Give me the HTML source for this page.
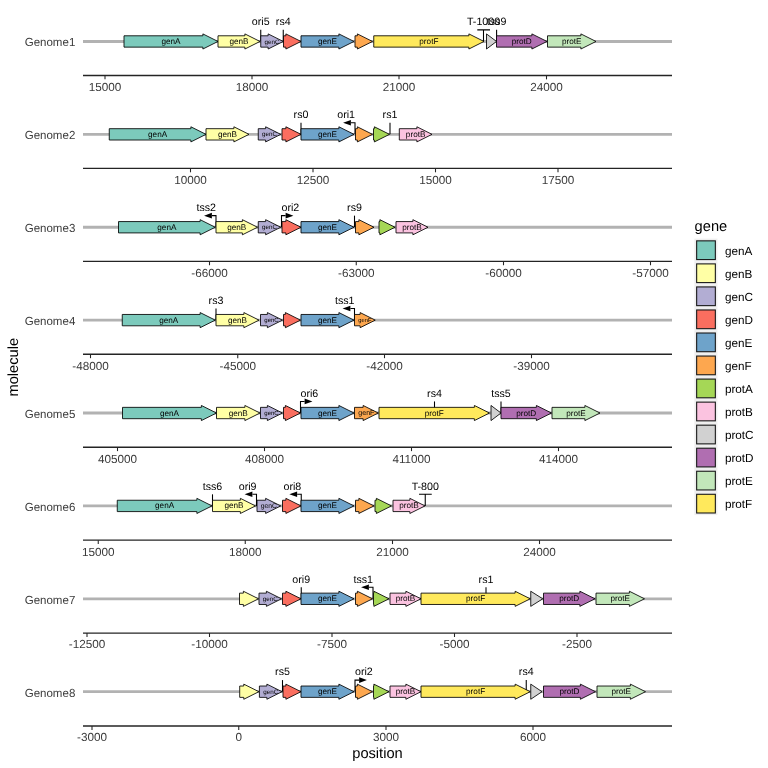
<!DOCTYPE html>
<html lang="en">
<head>
<meta charset="utf-8">
<title>gene arrow map</title>
<style>
html,body{margin:0;padding:0;background:#fff;}
body{width:768px;height:768px;overflow:hidden;font-family:"Liberation Sans",sans-serif;}
svg{display:block;}
</style>
</head>
<body>
<svg width="768" height="768" viewBox="0 0 768 768" text-rendering="geometricPrecision" font-family="'Liberation Sans', sans-serif">
<rect width="768" height="768" fill="#fff"/>
<g>
<line x1="83" y1="41.46" x2="672" y2="41.46" stroke="#B2B2B2" stroke-width="2.85"/>
<text x="75.3" y="46.41" font-size="11.73" fill="#3B3B3B" text-anchor="end" textLength="50.6" lengthAdjust="spacingAndGlyphs">Genome1</text>
<path d="M260.75 41.46V29.86" stroke="#000" stroke-width="1.07" fill="none"/>
<path d="M283.25 41.46V29.86" stroke="#000" stroke-width="1.07" fill="none"/>
<path d="M483.5 41.46V29.86M477.3 29.86H490" stroke="#000" stroke-width="1.07" fill="none"/>
<path d="M496.6 41.46V29.86" stroke="#000" stroke-width="1.07" fill="none"/>
<path d="M124 35.79H202.88V33.9L218 41.46L202.88 49.02V47.13H124Z" fill="#7CCABC" stroke="#000" stroke-width="0.85" stroke-linejoin="miter"/>
<path d="M218 35.79H244.88V33.9L260 41.46L244.88 49.02V47.13H218Z" fill="#FFFFA5" stroke="#000" stroke-width="0.85" stroke-linejoin="miter"/>
<path d="M260.75 35.79H268.13V33.9L283.25 41.46L268.13 49.02V47.13H260.75Z" fill="#B2ADD3" stroke="#000" stroke-width="0.85" stroke-linejoin="miter"/>
<path d="M283.5 35.79H285.88V33.9L301 41.46L285.88 49.02V47.13H283.5Z" fill="#FA6E5F" stroke="#000" stroke-width="0.85" stroke-linejoin="miter"/>
<path d="M301 35.79H338.88V33.9L354 41.46L338.88 49.02V47.13H301Z" fill="#6EA3CA" stroke="#000" stroke-width="0.85" stroke-linejoin="miter"/>
<path d="M355 35.79H357.38V33.9L372.5 41.46L357.38 49.02V47.13H355Z" fill="#FDA74F" stroke="#000" stroke-width="0.85" stroke-linejoin="miter"/>
<path d="M373.75 35.79H468.88V33.9L484 41.46L468.88 49.02V47.13H373.75Z" fill="#FFE95C" stroke="#000" stroke-width="0.85" stroke-linejoin="miter"/>
<path d="M486.5 33.9L496.5 41.46L486.5 49.02Z" fill="#D1D1D1" stroke="#000" stroke-width="0.85" stroke-linejoin="miter"/>
<path d="M496.5 35.79H531.88V33.9L547 41.46L531.88 49.02V47.13H496.5Z" fill="#B06EB1" stroke="#000" stroke-width="0.85" stroke-linejoin="miter"/>
<path d="M547.5 35.79H580.88V33.9L596 41.46L580.88 49.02V47.13H547.5Z" fill="#C2E7BA" stroke="#000" stroke-width="0.85" stroke-linejoin="miter"/>
<text x="171" y="44.01" font-size="8.2" text-anchor="middle" fill="#000">genA</text>
<text x="239" y="44.01" font-size="8.2" text-anchor="middle" fill="#000">genB</text>
<text x="272" y="43.5" font-size="6.25" text-anchor="middle" fill="#000">genC</text>
<text x="327.5" y="44.01" font-size="8.2" text-anchor="middle" fill="#000">genE</text>
<text x="428.88" y="44.01" font-size="8.2" text-anchor="middle" fill="#000">protF</text>
<text x="521.75" y="44.01" font-size="8.2" text-anchor="middle" fill="#000">protD</text>
<text x="571.75" y="44.01" font-size="8.2" text-anchor="middle" fill="#000">protE</text>
<text x="260.75" y="25.21" font-size="10.67" text-anchor="middle" fill="#000">ori5</text>
<text x="283.25" y="25.21" font-size="10.67" text-anchor="middle" fill="#000">rs4</text>
<text x="483.5" y="25.21" font-size="10.67" text-anchor="middle" fill="#000">T-1000</text>
<text x="496.6" y="25.21" font-size="10.67" text-anchor="middle" fill="#000">tss9</text>
<line x1="83" y1="75.45" x2="672" y2="75.45" stroke="#242424" stroke-width="1.4"/>
<line x1="105" y1="75.45" x2="105" y2="79.35" stroke="#242424" stroke-width="1.07"/>
<text x="105" y="90.8" font-size="11.73" fill="#3B3B3B" text-anchor="middle">15000</text>
<line x1="252" y1="75.45" x2="252" y2="79.35" stroke="#242424" stroke-width="1.07"/>
<text x="252" y="90.8" font-size="11.73" fill="#3B3B3B" text-anchor="middle">18000</text>
<line x1="399" y1="75.45" x2="399" y2="79.35" stroke="#242424" stroke-width="1.07"/>
<text x="399" y="90.8" font-size="11.73" fill="#3B3B3B" text-anchor="middle">21000</text>
<line x1="546.5" y1="75.45" x2="546.5" y2="79.35" stroke="#242424" stroke-width="1.07"/>
<text x="546.5" y="90.8" font-size="11.73" fill="#3B3B3B" text-anchor="middle">24000</text>
</g>
<g>
<line x1="83" y1="134.35" x2="672" y2="134.35" stroke="#B2B2B2" stroke-width="2.85"/>
<text x="75.3" y="139.3" font-size="11.73" fill="#3B3B3B" text-anchor="end" textLength="50.6" lengthAdjust="spacingAndGlyphs">Genome2</text>
<path d="M301 134.35V122.75" stroke="#000" stroke-width="1.07" fill="none"/>
<path d="M355 134.35V122.75H350.9" stroke="#000" stroke-width="1.07" fill="none" stroke-linejoin="miter"/>
<path d="M343.1 122.75L350.9 119.95V125.55Z" fill="#000"/>
<path d="M390 134.35V122.75" stroke="#000" stroke-width="1.07" fill="none"/>
<path d="M109.25 128.68H190.88V126.79L206 134.35L190.88 141.91V140.02H109.25Z" fill="#7CCABC" stroke="#000" stroke-width="0.85" stroke-linejoin="miter"/>
<path d="M206 128.68H233.88V126.79L249 134.35L233.88 141.91V140.02H206Z" fill="#FFFFA5" stroke="#000" stroke-width="0.85" stroke-linejoin="miter"/>
<path d="M258.25 128.68H265.63V126.79L280.75 134.35L265.63 141.91V140.02H258.25Z" fill="#B2ADD3" stroke="#000" stroke-width="0.85" stroke-linejoin="miter"/>
<path d="M282 128.68H285.88V126.79L301 134.35L285.88 141.91V140.02H282Z" fill="#FA6E5F" stroke="#000" stroke-width="0.85" stroke-linejoin="miter"/>
<path d="M301 128.68H338.88V126.79L354 134.35L338.88 141.91V140.02H301Z" fill="#6EA3CA" stroke="#000" stroke-width="0.85" stroke-linejoin="miter"/>
<path d="M355.5 128.68H357.38V126.79L372.5 134.35L357.38 141.91V140.02H355.5Z" fill="#FDA74F" stroke="#000" stroke-width="0.85" stroke-linejoin="miter"/>
<path d="M373.5 128.68H374.38V126.79L389.5 134.35L374.38 141.91V140.02H373.5Z" fill="#A5D756" stroke="#000" stroke-width="0.85" stroke-linejoin="miter"/>
<path d="M399.3 128.68H416.88V126.79L432 134.35L416.88 141.91V140.02H399.3Z" fill="#FBC3E0" stroke="#000" stroke-width="0.85" stroke-linejoin="miter"/>
<text x="157.62" y="136.9" font-size="8.2" text-anchor="middle" fill="#000">genA</text>
<text x="227.5" y="136.9" font-size="8.2" text-anchor="middle" fill="#000">genB</text>
<text x="269.5" y="136.39" font-size="6.25" text-anchor="middle" fill="#000">genC</text>
<text x="327.5" y="136.9" font-size="8.2" text-anchor="middle" fill="#000">genE</text>
<text x="415.65" y="136.9" font-size="8.2" text-anchor="middle" fill="#000">protB</text>
<text x="301" y="118.1" font-size="10.67" text-anchor="middle" fill="#000">rs0</text>
<text x="355" y="118.1" font-size="10.67" text-anchor="end" fill="#000">ori1</text>
<text x="390" y="118.1" font-size="10.67" text-anchor="middle" fill="#000">rs1</text>
<line x1="83" y1="168.39" x2="672" y2="168.39" stroke="#242424" stroke-width="1.4"/>
<line x1="190.5" y1="168.39" x2="190.5" y2="172.29" stroke="#242424" stroke-width="1.07"/>
<text x="190.5" y="183.74" font-size="11.73" fill="#3B3B3B" text-anchor="middle">10000</text>
<line x1="313" y1="168.39" x2="313" y2="172.29" stroke="#242424" stroke-width="1.07"/>
<text x="313" y="183.74" font-size="11.73" fill="#3B3B3B" text-anchor="middle">12500</text>
<line x1="435.5" y1="168.39" x2="435.5" y2="172.29" stroke="#242424" stroke-width="1.07"/>
<text x="435.5" y="183.74" font-size="11.73" fill="#3B3B3B" text-anchor="middle">15000</text>
<line x1="558" y1="168.39" x2="558" y2="172.29" stroke="#242424" stroke-width="1.07"/>
<text x="558" y="183.74" font-size="11.73" fill="#3B3B3B" text-anchor="middle">17500</text>
</g>
<g>
<line x1="83" y1="227.24" x2="672" y2="227.24" stroke="#B2B2B2" stroke-width="2.85"/>
<text x="75.3" y="232.19" font-size="11.73" fill="#3B3B3B" text-anchor="end" textLength="50.6" lengthAdjust="spacingAndGlyphs">Genome3</text>
<path d="M216 227.24V215.64H211.9" stroke="#000" stroke-width="1.07" fill="none" stroke-linejoin="miter"/>
<path d="M204.1 215.64L211.9 212.84V218.44Z" fill="#000"/>
<path d="M281.5 227.24V215.64H285.6" stroke="#000" stroke-width="1.07" fill="none" stroke-linejoin="miter"/>
<path d="M293.4 215.64L285.6 212.84V218.44Z" fill="#000"/>
<path d="M354.5 227.24V215.64" stroke="#000" stroke-width="1.07" fill="none"/>
<path d="M118.5 221.57H200.13V219.68L215.25 227.24L200.13 234.8V232.91H118.5Z" fill="#7CCABC" stroke="#000" stroke-width="0.85" stroke-linejoin="miter"/>
<path d="M216 221.57H242.38V219.68L257.5 227.24L242.38 234.8V232.91H216Z" fill="#FFFFA5" stroke="#000" stroke-width="0.85" stroke-linejoin="miter"/>
<path d="M258.25 221.57H265.63V219.68L280.75 227.24L265.63 234.8V232.91H258.25Z" fill="#B2ADD3" stroke="#000" stroke-width="0.85" stroke-linejoin="miter"/>
<path d="M282 221.57H285.88V219.68L301 227.24L285.88 234.8V232.91H282Z" fill="#FA6E5F" stroke="#000" stroke-width="0.85" stroke-linejoin="miter"/>
<path d="M301 221.57H338.88V219.68L354 227.24L338.88 234.8V232.91H301Z" fill="#6EA3CA" stroke="#000" stroke-width="0.85" stroke-linejoin="miter"/>
<path d="M355.5 221.57H358.88V219.68L374 227.24L358.88 234.8V232.91H355.5Z" fill="#FDA74F" stroke="#000" stroke-width="0.85" stroke-linejoin="miter"/>
<path d="M379 221.57H379.88V219.68L395 227.24L379.88 234.8V232.91H379Z" fill="#A5D756" stroke="#000" stroke-width="0.85" stroke-linejoin="miter"/>
<path d="M396 221.57H412.88V219.68L428 227.24L412.88 234.8V232.91H396Z" fill="#FBC3E0" stroke="#000" stroke-width="0.85" stroke-linejoin="miter"/>
<text x="166.88" y="229.79" font-size="8.2" text-anchor="middle" fill="#000">genA</text>
<text x="236.75" y="229.79" font-size="8.2" text-anchor="middle" fill="#000">genB</text>
<text x="269.5" y="229.28" font-size="6.25" text-anchor="middle" fill="#000">genC</text>
<text x="327.5" y="229.79" font-size="8.2" text-anchor="middle" fill="#000">genE</text>
<text x="412" y="229.79" font-size="8.2" text-anchor="middle" fill="#000">protB</text>
<text x="216" y="210.99" font-size="10.67" text-anchor="end" fill="#000">tss2</text>
<text x="281.5" y="210.99" font-size="10.67" text-anchor="start" fill="#000">ori2</text>
<text x="354.5" y="210.99" font-size="10.67" text-anchor="middle" fill="#000">rs9</text>
<line x1="83" y1="261.33" x2="672" y2="261.33" stroke="#242424" stroke-width="1.4"/>
<line x1="209.5" y1="261.33" x2="209.5" y2="265.23" stroke="#242424" stroke-width="1.07"/>
<text x="209.5" y="276.68" font-size="11.73" fill="#3B3B3B" text-anchor="middle">-66000</text>
<line x1="356.25" y1="261.33" x2="356.25" y2="265.23" stroke="#242424" stroke-width="1.07"/>
<text x="356.25" y="276.68" font-size="11.73" fill="#3B3B3B" text-anchor="middle">-63000</text>
<line x1="503.5" y1="261.33" x2="503.5" y2="265.23" stroke="#242424" stroke-width="1.07"/>
<text x="503.5" y="276.68" font-size="11.73" fill="#3B3B3B" text-anchor="middle">-60000</text>
<line x1="650.5" y1="261.33" x2="650.5" y2="265.23" stroke="#242424" stroke-width="1.07"/>
<text x="650.5" y="276.68" font-size="11.73" fill="#3B3B3B" text-anchor="middle">-57000</text>
</g>
<g>
<line x1="83" y1="320.13" x2="672" y2="320.13" stroke="#B2B2B2" stroke-width="2.85"/>
<text x="75.3" y="325.08" font-size="11.73" fill="#3B3B3B" text-anchor="end" textLength="50.6" lengthAdjust="spacingAndGlyphs">Genome4</text>
<path d="M216 320.13V308.53" stroke="#000" stroke-width="1.07" fill="none"/>
<path d="M354.5 320.13V308.53H350.4" stroke="#000" stroke-width="1.07" fill="none" stroke-linejoin="miter"/>
<path d="M342.6 308.53L350.4 305.73V311.33Z" fill="#000"/>
<path d="M122.25 314.46H200.13V312.57L215.25 320.13L200.13 327.69V325.8H122.25Z" fill="#7CCABC" stroke="#000" stroke-width="0.85" stroke-linejoin="miter"/>
<path d="M216 314.46H243.88V312.57L259 320.13L243.88 327.69V325.8H216Z" fill="#FFFFA5" stroke="#000" stroke-width="0.85" stroke-linejoin="miter"/>
<path d="M260.5 314.46H267.38V312.57L282.5 320.13L267.38 327.69V325.8H260.5Z" fill="#B2ADD3" stroke="#000" stroke-width="0.85" stroke-linejoin="miter"/>
<path d="M283.5 314.46H285.38V312.57L300.5 320.13L285.38 327.69V325.8H283.5Z" fill="#FA6E5F" stroke="#000" stroke-width="0.85" stroke-linejoin="miter"/>
<path d="M301 314.46H338.88V312.57L354 320.13L338.88 327.69V325.8H301Z" fill="#6EA3CA" stroke="#000" stroke-width="0.85" stroke-linejoin="miter"/>
<path d="M354.5 314.46H360.13V312.57L375.25 320.13L360.13 327.69V325.8H354.5Z" fill="#FDA74F" stroke="#000" stroke-width="0.85" stroke-linejoin="miter"/>
<text x="168.75" y="322.68" font-size="8.2" text-anchor="middle" fill="#000">genA</text>
<text x="237.5" y="322.68" font-size="8.2" text-anchor="middle" fill="#000">genB</text>
<text x="271.5" y="322.12" font-size="6.04" text-anchor="middle" fill="#000">genC</text>
<text x="327.5" y="322.68" font-size="8.2" text-anchor="middle" fill="#000">genE</text>
<text x="364.88" y="322.05" font-size="5.79" text-anchor="middle" fill="#000">genF</text>
<text x="216" y="303.88" font-size="10.67" text-anchor="middle" fill="#000">rs3</text>
<text x="354.5" y="303.88" font-size="10.67" text-anchor="end" fill="#000">tss1</text>
<line x1="83" y1="354.27" x2="672" y2="354.27" stroke="#242424" stroke-width="1.4"/>
<line x1="90.5" y1="354.27" x2="90.5" y2="358.17" stroke="#242424" stroke-width="1.07"/>
<text x="90.5" y="369.62" font-size="11.73" fill="#3B3B3B" text-anchor="middle">-48000</text>
<line x1="237.75" y1="354.27" x2="237.75" y2="358.17" stroke="#242424" stroke-width="1.07"/>
<text x="237.75" y="369.62" font-size="11.73" fill="#3B3B3B" text-anchor="middle">-45000</text>
<line x1="384.5" y1="354.27" x2="384.5" y2="358.17" stroke="#242424" stroke-width="1.07"/>
<text x="384.5" y="369.62" font-size="11.73" fill="#3B3B3B" text-anchor="middle">-42000</text>
<line x1="531.5" y1="354.27" x2="531.5" y2="358.17" stroke="#242424" stroke-width="1.07"/>
<text x="531.5" y="369.62" font-size="11.73" fill="#3B3B3B" text-anchor="middle">-39000</text>
</g>
<g>
<line x1="83" y1="413.02" x2="672" y2="413.02" stroke="#B2B2B2" stroke-width="2.85"/>
<text x="75.3" y="417.97" font-size="11.73" fill="#3B3B3B" text-anchor="end" textLength="50.6" lengthAdjust="spacingAndGlyphs">Genome5</text>
<path d="M300.5 413.02V401.42H304.6" stroke="#000" stroke-width="1.07" fill="none" stroke-linejoin="miter"/>
<path d="M312.4 401.42L304.6 398.62V404.22Z" fill="#000"/>
<path d="M434.5 413.02V401.42" stroke="#000" stroke-width="1.07" fill="none"/>
<path d="M501 413.02V401.42" stroke="#000" stroke-width="1.07" fill="none"/>
<path d="M122.5 407.35H201.38V405.46L216.5 413.02L201.38 420.58V418.69H122.5Z" fill="#7CCABC" stroke="#000" stroke-width="0.85" stroke-linejoin="miter"/>
<path d="M216.5 407.35H244.88V405.46L260 413.02L244.88 420.58V418.69H216.5Z" fill="#FFFFA5" stroke="#000" stroke-width="0.85" stroke-linejoin="miter"/>
<path d="M260.5 407.35H267.38V405.46L282.5 413.02L267.38 420.58V418.69H260.5Z" fill="#B2ADD3" stroke="#000" stroke-width="0.85" stroke-linejoin="miter"/>
<path d="M283.5 407.35H285.38V405.46L300.5 413.02L285.38 420.58V418.69H283.5Z" fill="#FA6E5F" stroke="#000" stroke-width="0.85" stroke-linejoin="miter"/>
<path d="M301 407.35H338.88V405.46L354 413.02L338.88 420.58V418.69H301Z" fill="#6EA3CA" stroke="#000" stroke-width="0.85" stroke-linejoin="miter"/>
<path d="M354.5 407.35H363.13V405.46L378.25 413.02L363.13 420.58V418.69H354.5Z" fill="#FDA74F" stroke="#000" stroke-width="0.85" stroke-linejoin="miter"/>
<path d="M379 407.35H474.38V405.46L489.5 413.02L474.38 420.58V418.69H379Z" fill="#FFE95C" stroke="#000" stroke-width="0.85" stroke-linejoin="miter"/>
<path d="M491 405.46L501 413.02L491 420.58Z" fill="#D1D1D1" stroke="#000" stroke-width="0.85" stroke-linejoin="miter"/>
<path d="M501 407.35H536.38V405.46L551.5 413.02L536.38 420.58V418.69H501Z" fill="#B06EB1" stroke="#000" stroke-width="0.85" stroke-linejoin="miter"/>
<path d="M552 407.35H584.88V405.46L600 413.02L584.88 420.58V418.69H552Z" fill="#C2E7BA" stroke="#000" stroke-width="0.85" stroke-linejoin="miter"/>
<text x="169.5" y="415.57" font-size="8.2" text-anchor="middle" fill="#000">genA</text>
<text x="238.25" y="415.57" font-size="8.2" text-anchor="middle" fill="#000">genB</text>
<text x="271.5" y="415.01" font-size="6.04" text-anchor="middle" fill="#000">genC</text>
<text x="327.5" y="415.57" font-size="8.2" text-anchor="middle" fill="#000">genE</text>
<text x="366.38" y="415.29" font-size="7.1" text-anchor="middle" fill="#000">genF</text>
<text x="434.25" y="415.57" font-size="8.2" text-anchor="middle" fill="#000">protF</text>
<text x="526.25" y="415.57" font-size="8.2" text-anchor="middle" fill="#000">protD</text>
<text x="576" y="415.57" font-size="8.2" text-anchor="middle" fill="#000">protE</text>
<text x="300.5" y="396.77" font-size="10.67" text-anchor="start" fill="#000">ori6</text>
<text x="434.5" y="396.77" font-size="10.67" text-anchor="middle" fill="#000">rs4</text>
<text x="501" y="396.77" font-size="10.67" text-anchor="middle" fill="#000">tss5</text>
<line x1="83" y1="447.21" x2="672" y2="447.21" stroke="#242424" stroke-width="1.4"/>
<line x1="117.5" y1="447.21" x2="117.5" y2="451.11" stroke="#242424" stroke-width="1.07"/>
<text x="117.5" y="462.56" font-size="11.73" fill="#3B3B3B" text-anchor="middle">405000</text>
<line x1="264.5" y1="447.21" x2="264.5" y2="451.11" stroke="#242424" stroke-width="1.07"/>
<text x="264.5" y="462.56" font-size="11.73" fill="#3B3B3B" text-anchor="middle">408000</text>
<line x1="411.5" y1="447.21" x2="411.5" y2="451.11" stroke="#242424" stroke-width="1.07"/>
<text x="411.5" y="462.56" font-size="11.73" fill="#3B3B3B" text-anchor="middle">411000</text>
<line x1="558.5" y1="447.21" x2="558.5" y2="451.11" stroke="#242424" stroke-width="1.07"/>
<text x="558.5" y="462.56" font-size="11.73" fill="#3B3B3B" text-anchor="middle">414000</text>
</g>
<g>
<line x1="83" y1="505.91" x2="672" y2="505.91" stroke="#B2B2B2" stroke-width="2.85"/>
<text x="75.3" y="510.86" font-size="11.73" fill="#3B3B3B" text-anchor="end" textLength="50.6" lengthAdjust="spacingAndGlyphs">Genome6</text>
<path d="M212.5 505.91V494.31" stroke="#000" stroke-width="1.07" fill="none"/>
<path d="M256.5 505.91V494.31H252.4" stroke="#000" stroke-width="1.07" fill="none" stroke-linejoin="miter"/>
<path d="M244.6 494.31L252.4 491.51V497.11Z" fill="#000"/>
<path d="M301.25 505.91V494.31H297.15" stroke="#000" stroke-width="1.07" fill="none" stroke-linejoin="miter"/>
<path d="M289.35 494.31L297.15 491.51V497.11Z" fill="#000"/>
<path d="M425.25 505.91V494.31M419.05 494.31H431.75" stroke="#000" stroke-width="1.07" fill="none"/>
<path d="M117.25 500.24H196.88V498.35L212 505.91L196.88 513.47V511.58H117.25Z" fill="#7CCABC" stroke="#000" stroke-width="0.85" stroke-linejoin="miter"/>
<path d="M212.5 500.24H240.38V498.35L255.5 505.91L240.38 513.47V511.58H212.5Z" fill="#FFFFA5" stroke="#000" stroke-width="0.85" stroke-linejoin="miter"/>
<path d="M257 500.24H265.63V498.35L280.75 505.91L265.63 513.47V511.58H257Z" fill="#B2ADD3" stroke="#000" stroke-width="0.85" stroke-linejoin="miter"/>
<path d="M282.5 500.24H285.88V498.35L301 505.91L285.88 513.47V511.58H282.5Z" fill="#FA6E5F" stroke="#000" stroke-width="0.85" stroke-linejoin="miter"/>
<path d="M301 500.24H338.88V498.35L354 505.91L338.88 513.47V511.58H301Z" fill="#6EA3CA" stroke="#000" stroke-width="0.85" stroke-linejoin="miter"/>
<path d="M355.5 500.24H358.88V498.35L374 505.91L358.88 513.47V511.58H355.5Z" fill="#FDA74F" stroke="#000" stroke-width="0.85" stroke-linejoin="miter"/>
<path d="M375 500.24H376.38V498.35L391.5 505.91L376.38 513.47V511.58H375Z" fill="#A5D756" stroke="#000" stroke-width="0.85" stroke-linejoin="miter"/>
<path d="M393 500.24H409.88V498.35L425 505.91L409.88 513.47V511.58H393Z" fill="#FBC3E0" stroke="#000" stroke-width="0.85" stroke-linejoin="miter"/>
<text x="164.62" y="508.46" font-size="8.2" text-anchor="middle" fill="#000">genA</text>
<text x="234" y="508.46" font-size="8.2" text-anchor="middle" fill="#000">genB</text>
<text x="268.88" y="508.09" font-size="6.77" text-anchor="middle" fill="#000">genC</text>
<text x="327.5" y="508.46" font-size="8.2" text-anchor="middle" fill="#000">genE</text>
<text x="409" y="508.46" font-size="8.2" text-anchor="middle" fill="#000">protB</text>
<text x="212.5" y="489.66" font-size="10.67" text-anchor="middle" fill="#000">tss6</text>
<text x="256.5" y="489.66" font-size="10.67" text-anchor="end" fill="#000">ori9</text>
<text x="301.25" y="489.66" font-size="10.67" text-anchor="end" fill="#000">ori8</text>
<text x="425.25" y="489.66" font-size="10.67" text-anchor="middle" fill="#000">T-800</text>
<line x1="83" y1="540.15" x2="672" y2="540.15" stroke="#242424" stroke-width="1.4"/>
<line x1="98.25" y1="540.15" x2="98.25" y2="544.05" stroke="#242424" stroke-width="1.07"/>
<text x="98.25" y="555.5" font-size="11.73" fill="#3B3B3B" text-anchor="middle">15000</text>
<line x1="245.25" y1="540.15" x2="245.25" y2="544.05" stroke="#242424" stroke-width="1.07"/>
<text x="245.25" y="555.5" font-size="11.73" fill="#3B3B3B" text-anchor="middle">18000</text>
<line x1="392.5" y1="540.15" x2="392.5" y2="544.05" stroke="#242424" stroke-width="1.07"/>
<text x="392.5" y="555.5" font-size="11.73" fill="#3B3B3B" text-anchor="middle">21000</text>
<line x1="539.5" y1="540.15" x2="539.5" y2="544.05" stroke="#242424" stroke-width="1.07"/>
<text x="539.5" y="555.5" font-size="11.73" fill="#3B3B3B" text-anchor="middle">24000</text>
</g>
<g>
<line x1="83" y1="598.8" x2="672" y2="598.8" stroke="#B2B2B2" stroke-width="2.85"/>
<text x="75.3" y="603.75" font-size="11.73" fill="#3B3B3B" text-anchor="end" textLength="50.6" lengthAdjust="spacingAndGlyphs">Genome7</text>
<path d="M301.25 598.8V587.2" stroke="#000" stroke-width="1.07" fill="none"/>
<path d="M373 598.8V587.2H368.9" stroke="#000" stroke-width="1.07" fill="none" stroke-linejoin="miter"/>
<path d="M361.1 587.2L368.9 584.4V590Z" fill="#000"/>
<path d="M486 598.8V587.2" stroke="#000" stroke-width="1.07" fill="none"/>
<path d="M239.5 593.13H243.38V591.24L258.5 598.8L243.38 606.36V604.47H239.5Z" fill="#FFFFA5" stroke="#000" stroke-width="0.85" stroke-linejoin="miter"/>
<path d="M259 593.13H266.38V591.24L281.5 598.8L266.38 606.36V604.47H259Z" fill="#B2ADD3" stroke="#000" stroke-width="0.85" stroke-linejoin="miter"/>
<path d="M282.5 593.13H285.88V591.24L301 598.8L285.88 606.36V604.47H282.5Z" fill="#FA6E5F" stroke="#000" stroke-width="0.85" stroke-linejoin="miter"/>
<path d="M301 593.13H338.88V591.24L354 598.8L338.88 606.36V604.47H301Z" fill="#6EA3CA" stroke="#000" stroke-width="0.85" stroke-linejoin="miter"/>
<path d="M355.5 593.13H357.38V591.24L372.5 598.8L357.38 606.36V604.47H355.5Z" fill="#FDA74F" stroke="#000" stroke-width="0.85" stroke-linejoin="miter"/>
<path d="M373.5 593.13H373.88V591.24L389 598.8L373.88 606.36V604.47H373.5Z" fill="#A5D756" stroke="#000" stroke-width="0.85" stroke-linejoin="miter"/>
<path d="M390 593.13H405.88V591.24L421 598.8L405.88 606.36V604.47H390Z" fill="#FBC3E0" stroke="#000" stroke-width="0.85" stroke-linejoin="miter"/>
<path d="M421 593.13H515.13V591.24L530.25 598.8L515.13 606.36V604.47H421Z" fill="#FFE95C" stroke="#000" stroke-width="0.85" stroke-linejoin="miter"/>
<path d="M530.75 591.24L542.75 598.8L530.75 606.36Z" fill="#D1D1D1" stroke="#000" stroke-width="0.85" stroke-linejoin="miter"/>
<path d="M543.5 593.13H579.88V591.24L595 598.8L579.88 606.36V604.47H543.5Z" fill="#B06EB1" stroke="#000" stroke-width="0.85" stroke-linejoin="miter"/>
<path d="M596 593.13H629.38V591.24L644.5 598.8L629.38 606.36V604.47H596Z" fill="#C2E7BA" stroke="#000" stroke-width="0.85" stroke-linejoin="miter"/>
<text x="270.25" y="600.84" font-size="6.25" text-anchor="middle" fill="#000">genC</text>
<text x="327.5" y="601.35" font-size="8.2" text-anchor="middle" fill="#000">genE</text>
<text x="405.5" y="601.35" font-size="8.2" text-anchor="middle" fill="#000">protB</text>
<text x="475.62" y="601.35" font-size="8.2" text-anchor="middle" fill="#000">protF</text>
<text x="569.25" y="601.35" font-size="8.2" text-anchor="middle" fill="#000">protD</text>
<text x="620.25" y="601.35" font-size="8.2" text-anchor="middle" fill="#000">protE</text>
<text x="301.25" y="582.55" font-size="10.67" text-anchor="middle" fill="#000">ori9</text>
<text x="373" y="582.55" font-size="10.67" text-anchor="end" fill="#000">tss1</text>
<text x="486" y="582.55" font-size="10.67" text-anchor="middle" fill="#000">rs1</text>
<line x1="83" y1="633.09" x2="672" y2="633.09" stroke="#242424" stroke-width="1.4"/>
<line x1="87" y1="633.09" x2="87" y2="636.99" stroke="#242424" stroke-width="1.07"/>
<text x="87" y="648.44" font-size="11.73" fill="#3B3B3B" text-anchor="middle">-12500</text>
<line x1="209.5" y1="633.09" x2="209.5" y2="636.99" stroke="#242424" stroke-width="1.07"/>
<text x="209.5" y="648.44" font-size="11.73" fill="#3B3B3B" text-anchor="middle">-10000</text>
<line x1="332" y1="633.09" x2="332" y2="636.99" stroke="#242424" stroke-width="1.07"/>
<text x="332" y="648.44" font-size="11.73" fill="#3B3B3B" text-anchor="middle">-7500</text>
<line x1="454.5" y1="633.09" x2="454.5" y2="636.99" stroke="#242424" stroke-width="1.07"/>
<text x="454.5" y="648.44" font-size="11.73" fill="#3B3B3B" text-anchor="middle">-5000</text>
<line x1="577" y1="633.09" x2="577" y2="636.99" stroke="#242424" stroke-width="1.07"/>
<text x="577" y="648.44" font-size="11.73" fill="#3B3B3B" text-anchor="middle">-2500</text>
</g>
<g>
<line x1="83" y1="691.69" x2="672" y2="691.69" stroke="#B2B2B2" stroke-width="2.85"/>
<text x="75.3" y="696.64" font-size="11.73" fill="#3B3B3B" text-anchor="end" textLength="50.6" lengthAdjust="spacingAndGlyphs">Genome8</text>
<path d="M282.5 691.69V680.09" stroke="#000" stroke-width="1.07" fill="none"/>
<path d="M355 691.69V680.09H359.1" stroke="#000" stroke-width="1.07" fill="none" stroke-linejoin="miter"/>
<path d="M366.9 680.09L359.1 677.29V682.89Z" fill="#000"/>
<path d="M526.25 691.69V680.09" stroke="#000" stroke-width="1.07" fill="none"/>
<path d="M239.7 686.02H243.78V684.13L258.9 691.69L243.78 699.25V697.36H239.7Z" fill="#FFFFA5" stroke="#000" stroke-width="0.85" stroke-linejoin="miter"/>
<path d="M259.4 686.02H266.88V684.13L282 691.69L266.88 699.25V697.36H259.4Z" fill="#B2ADD3" stroke="#000" stroke-width="0.85" stroke-linejoin="miter"/>
<path d="M283 686.02H285.88V684.13L301 691.69L285.88 699.25V697.36H283Z" fill="#FA6E5F" stroke="#000" stroke-width="0.85" stroke-linejoin="miter"/>
<path d="M301 686.02H338.88V684.13L354 691.69L338.88 699.25V697.36H301Z" fill="#6EA3CA" stroke="#000" stroke-width="0.85" stroke-linejoin="miter"/>
<path d="M355.5 686.02H357.38V684.13L372.5 691.69L357.38 699.25V697.36H355.5Z" fill="#FDA74F" stroke="#000" stroke-width="0.85" stroke-linejoin="miter"/>
<path d="M373.5 686.02H373.88V684.13L389 691.69L373.88 699.25V697.36H373.5Z" fill="#A5D756" stroke="#000" stroke-width="0.85" stroke-linejoin="miter"/>
<path d="M390 686.02H405.88V684.13L421 691.69L405.88 699.25V697.36H390Z" fill="#FBC3E0" stroke="#000" stroke-width="0.85" stroke-linejoin="miter"/>
<path d="M421 686.02H515.13V684.13L530.25 691.69L515.13 699.25V697.36H421Z" fill="#FFE95C" stroke="#000" stroke-width="0.85" stroke-linejoin="miter"/>
<path d="M530.75 684.13L542 691.69L530.75 699.25Z" fill="#D1D1D1" stroke="#000" stroke-width="0.85" stroke-linejoin="miter"/>
<path d="M543.5 686.02H580.38V684.13L595.5 691.69L580.38 699.25V697.36H543.5Z" fill="#B06EB1" stroke="#000" stroke-width="0.85" stroke-linejoin="miter"/>
<path d="M597 686.02H630.38V684.13L645.5 691.69L630.38 699.25V697.36H597Z" fill="#C2E7BA" stroke="#000" stroke-width="0.85" stroke-linejoin="miter"/>
<text x="270.7" y="693.75" font-size="6.29" text-anchor="middle" fill="#000">genC</text>
<text x="327.5" y="694.24" font-size="8.2" text-anchor="middle" fill="#000">genE</text>
<text x="405.5" y="694.24" font-size="8.2" text-anchor="middle" fill="#000">protB</text>
<text x="475.62" y="694.24" font-size="8.2" text-anchor="middle" fill="#000">protF</text>
<text x="569.5" y="694.24" font-size="8.2" text-anchor="middle" fill="#000">protD</text>
<text x="621.25" y="694.24" font-size="8.2" text-anchor="middle" fill="#000">protE</text>
<text x="282.5" y="675.44" font-size="10.67" text-anchor="middle" fill="#000">rs5</text>
<text x="355" y="675.44" font-size="10.67" text-anchor="start" fill="#000">ori2</text>
<text x="526.25" y="675.44" font-size="10.67" text-anchor="middle" fill="#000">rs4</text>
<line x1="83" y1="726.03" x2="672" y2="726.03" stroke="#242424" stroke-width="1.4"/>
<line x1="92" y1="726.03" x2="92" y2="729.93" stroke="#242424" stroke-width="1.07"/>
<text x="92" y="741.38" font-size="11.73" fill="#3B3B3B" text-anchor="middle">-3000</text>
<line x1="238.75" y1="726.03" x2="238.75" y2="729.93" stroke="#242424" stroke-width="1.07"/>
<text x="238.75" y="741.38" font-size="11.73" fill="#3B3B3B" text-anchor="middle">0</text>
<line x1="386" y1="726.03" x2="386" y2="729.93" stroke="#242424" stroke-width="1.07"/>
<text x="386" y="741.38" font-size="11.73" fill="#3B3B3B" text-anchor="middle">3000</text>
<line x1="533" y1="726.03" x2="533" y2="729.93" stroke="#242424" stroke-width="1.07"/>
<text x="533" y="741.38" font-size="11.73" fill="#3B3B3B" text-anchor="middle">6000</text>
</g>
<text x="377.5" y="757.5" font-size="14.67" text-anchor="middle" fill="#000">position</text>
<text transform="translate(18 367.2) rotate(-90)" font-size="14.67" text-anchor="middle" fill="#000">molecule</text>
<text x="694.6" y="230.6" font-size="14.67" fill="#000">gene</text>
<rect x="694.4" y="238.6" width="23.04" height="23.04" fill="#EFEFEF"/>
<rect x="696.65" y="240.85" width="18.7" height="18.7" fill="#7CCABC" stroke="#1a1a1a" stroke-width="1.1"/>
<text x="724.9" y="254.72" font-size="11.73" fill="#000">genA</text>
<rect x="694.4" y="261.64" width="23.04" height="23.04" fill="#EFEFEF"/>
<rect x="696.65" y="263.89" width="18.7" height="18.7" fill="#FFFFA5" stroke="#1a1a1a" stroke-width="1.1"/>
<text x="724.9" y="277.76" font-size="11.73" fill="#000">genB</text>
<rect x="694.4" y="284.68" width="23.04" height="23.04" fill="#EFEFEF"/>
<rect x="696.65" y="286.93" width="18.7" height="18.7" fill="#B2ADD3" stroke="#1a1a1a" stroke-width="1.1"/>
<text x="724.9" y="300.8" font-size="11.73" fill="#000">genC</text>
<rect x="694.4" y="307.72" width="23.04" height="23.04" fill="#EFEFEF"/>
<rect x="696.65" y="309.97" width="18.7" height="18.7" fill="#FA6E5F" stroke="#1a1a1a" stroke-width="1.1"/>
<text x="724.9" y="323.84" font-size="11.73" fill="#000">genD</text>
<rect x="694.4" y="330.76" width="23.04" height="23.04" fill="#EFEFEF"/>
<rect x="696.65" y="333.01" width="18.7" height="18.7" fill="#6EA3CA" stroke="#1a1a1a" stroke-width="1.1"/>
<text x="724.9" y="346.88" font-size="11.73" fill="#000">genE</text>
<rect x="694.4" y="353.8" width="23.04" height="23.04" fill="#EFEFEF"/>
<rect x="696.65" y="356.05" width="18.7" height="18.7" fill="#FDA74F" stroke="#1a1a1a" stroke-width="1.1"/>
<text x="724.9" y="369.92" font-size="11.73" fill="#000">genF</text>
<rect x="694.4" y="376.84" width="23.04" height="23.04" fill="#EFEFEF"/>
<rect x="696.65" y="379.09" width="18.7" height="18.7" fill="#A5D756" stroke="#1a1a1a" stroke-width="1.1"/>
<text x="724.9" y="392.96" font-size="11.73" fill="#000">protA</text>
<rect x="694.4" y="399.88" width="23.04" height="23.04" fill="#EFEFEF"/>
<rect x="696.65" y="402.13" width="18.7" height="18.7" fill="#FBC3E0" stroke="#1a1a1a" stroke-width="1.1"/>
<text x="724.9" y="416" font-size="11.73" fill="#000">protB</text>
<rect x="694.4" y="422.92" width="23.04" height="23.04" fill="#EFEFEF"/>
<rect x="696.65" y="425.17" width="18.7" height="18.7" fill="#D1D1D1" stroke="#1a1a1a" stroke-width="1.1"/>
<text x="724.9" y="439.04" font-size="11.73" fill="#000">protC</text>
<rect x="694.4" y="445.96" width="23.04" height="23.04" fill="#EFEFEF"/>
<rect x="696.65" y="448.21" width="18.7" height="18.7" fill="#B06EB1" stroke="#1a1a1a" stroke-width="1.1"/>
<text x="724.9" y="462.08" font-size="11.73" fill="#000">protD</text>
<rect x="694.4" y="469" width="23.04" height="23.04" fill="#EFEFEF"/>
<rect x="696.65" y="471.25" width="18.7" height="18.7" fill="#C2E7BA" stroke="#1a1a1a" stroke-width="1.1"/>
<text x="724.9" y="485.12" font-size="11.73" fill="#000">protE</text>
<rect x="694.4" y="492.04" width="23.04" height="23.04" fill="#EFEFEF"/>
<rect x="696.65" y="494.29" width="18.7" height="18.7" fill="#FFE95C" stroke="#1a1a1a" stroke-width="1.1"/>
<text x="724.9" y="508.16" font-size="11.73" fill="#000">protF</text>
</svg>
</body>
</html>
